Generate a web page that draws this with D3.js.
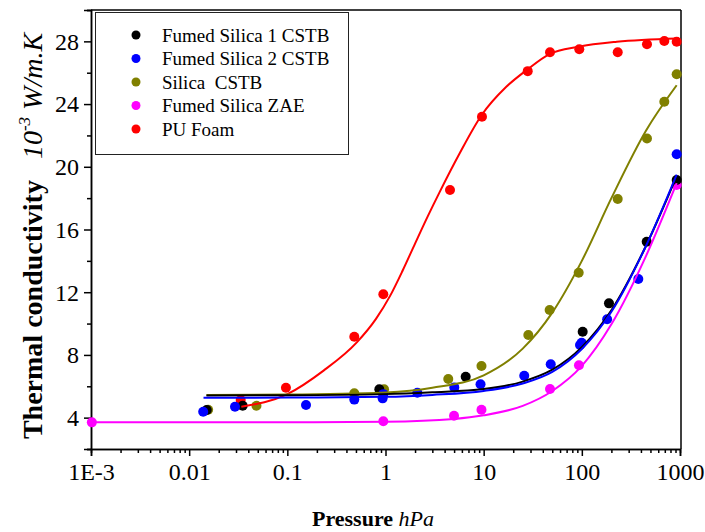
<!DOCTYPE html>
<html><head><meta charset="utf-8">
<script src="https://cdn.jsdelivr.net/npm/d3@7/dist/d3.min.js"></script>
<style>
body{margin:0;background:#fff;}
svg{display:block;}
text{font-family:"Liberation Serif","Times New Roman",Times,serif;fill:#000;}
</style>
</head><body>
<svg id="chart" width="705" height="532"></svg>
<script>
// ---- data ----
const seriesNames = ["Fumed Silica 1 CSTB","Fumed Silica 2 CSTB","Silica  CSTB","Fumed Silica ZAE","PU Foam"];
const seriesColors = ["#000000","#0000ff","#808000","#ff00ff","#ff0000"];

const xTickValues = [1e-3,1e-2,1e-1,1,10,100,1000];
const xTickLabels = ["1E-3","0.01","0.1","1","10","100","1000"];
const yTickValues = [4,8,12,16,20,24,28];
const yTickLabels = ["4","8","12","16","20","24","28"];

// measured points (pressure hPa, conductivity 10^-3 W/m.K)
const fs1P = [0.0151,0.0351,0.865,6.56,102,189,458,925];
const fs1K = [4.49,4.76,5.81,6.61,9.48,11.29,15.22,19.16];
const fs2P = [0.0139,0.0293,0.155,0.481,0.935,0.95,2.11,5.02,9.29,25.9,48.2,95.8,99.6,181,376,925];
const fs2K = [4.38,4.70,4.81,5.15,5.23,5.5,5.59,5.93,6.13,6.67,7.4,8.63,8.78,10.27,12.84,20.8];
const silP = [0.0156,0.0485,0.481,0.967,4.36,9.5,28.5,47,92.9,232,461,692,925];
const silK = [4.5,4.76,5.55,5.81,6.46,7.29,9.27,10.86,13.24,17.94,21.8,24.15,25.9];
const zaeP = [0.00102,0.95,4.99,9.5,47.4,93.5,925];
const zaeK = [3.7,3.77,4.12,4.5,5.83,7.34,18.84];
const puP = [0.0335,0.0968,0.481,0.95,4.54,9.61,28.1,47.4,94.2,232,461,692,925];
const puK = [5.12,5.91,9.16,11.87,18.52,23.19,26.1,27.3,27.5,27.3,27.81,28.02,27.98];

// fitted curves
const fs1FitP = [0.015,0.1,1,3,10,25,50,100,200,450,925];
const fs1FitK = [5.42,5.43,5.5,5.62,5.82,6.3,7.06,8.5,10.85,14.95,19.4];
const fs2FitP = [0.014,0.1,1,3,10,25,50,100,200,450,925];
const fs2FitK = [5.27,5.28,5.33,5.45,5.7,6.18,6.92,8.38,10.75,14.95,19.5];
const silFitP = [0.015,0.1,1,3,10,25,50,100,200,450,925];
const silFitK = [5.45,5.47,5.6,5.9,6.7,8.4,10.7,14.0,18.0,22.3,25.2];
const zaeFitP = [0.001,0.1,1,5,10,25,50,100,200,450,925];
const zaeFitK = [3.7,3.7,3.74,3.92,4.15,4.75,5.7,7.3,9.95,14.3,18.95];
const puFitP = [0.034,0.1,0.234,0.51,0.8,1.11,1.5,2.0,2.7,3.57,5.7,9.55,17,27.8,46.8,92.7,227,925];
const puFitK = [4.70,5.5,7.0,8.8,10.3,11.75,13.4,15.1,16.85,18.4,20.86,23.3,25.1,26.2,27.19,27.66,27.98,28.19];

// ---- chart ----
const svg = d3.select("#chart");
const X0 = 91, X1 = 680, Y0 = 449, Y1 = 10;
const x = d3.scaleLog().domain([1e-3,1000]).range([X0,X1]);
const y = d3.scaleLinear().domain([2,30]).range([Y0,Y1]);

const zip = (P,K) => P.map((p,i)=>({p:p,k:K[i]}));
const pointSets = [zip(fs1P,fs1K),zip(fs2P,fs2K),zip(silP,silK),zip(zaeP,zaeK),zip(puP,puK)];
const fitSets = [zip(fs1FitP,fs1FitK),zip(fs2FitP,fs2FitK),zip(silFitP,silFitK),zip(zaeFitP,zaeFitK),zip(puFitP,puFitK)];

// frame (top & right)
svg.append("line").attr("x1",X0).attr("x2",X1+1).attr("y1",Y1).attr("y2",Y1).attr("stroke","#000").attr("stroke-width",1.5);
svg.append("line").attr("x1",X1+1).attr("x2",X1+1).attr("y1",Y1).attr("y2",Y0).attr("stroke","#000").attr("stroke-width",1.5);

// x axis
const minorX = [];
for (let e=-3;e<3;e++) for (let m=2;m<=9;m++) minorX.push(m*Math.pow(10,e));
const xMinor = svg.append("g").attr("transform",`translate(0,${Y0})`)
  .call(d3.axisBottom(x).tickValues(minorX).tickSize(4).tickFormat(""));
const xMajor = svg.append("g").attr("transform",`translate(0,${Y0})`)
  .call(d3.axisBottom(x).tickValues(xTickValues).tickSize(7).tickPadding(5)
    .tickFormat((d,i)=>xTickLabels[i]));
// y axis
const minorY = d3.range(2,31,2).filter(v=>v%4!==0);
const yMinor = svg.append("g").attr("transform",`translate(${X0},0)`)
  .call(d3.axisLeft(y).tickValues(minorY).tickSize(4).tickFormat(""));
const yMajor = svg.append("g").attr("transform",`translate(${X0},0)`)
  .call(d3.axisLeft(y).tickValues(yTickValues).tickSize(7).tickPadding(5)
    .tickFormat((d,i)=>yTickLabels[i]));

[xMinor,xMajor,yMinor,yMajor].forEach(g=>{
  g.select(".domain").attr("stroke","#000").attr("stroke-width",1.5);
  g.selectAll(".tick line").attr("stroke","#000").attr("stroke-width",1.5);
  g.selectAll(".tick text").style("font-family",'"Liberation Serif",serif').style("font-size","24px").attr("fill","#000");
});
xMajor.selectAll(".tick text").attr("dy","0.8em");
yMajor.selectAll(".tick text").attr("dy","0.33em");

// points (drawn in order so blue ends on top)
const drawOrder = [4,3,2,0,1];
drawOrder.forEach(si=>{
  svg.append("g").selectAll("circle").data(pointSets[si]).join("circle")
    .attr("cx",d=>x(d.p)).attr("cy",d=>y(d.k)).attr("r",5)
    .attr("fill",seriesColors[si]);
});

// fitted lines
const line = d3.line().x(d=>x(d.p)).y(d=>y(d.k)).curve(d3.curveMonotoneX);
[4,3,2,0,1].forEach(si=>{
  svg.append("path").datum(fitSets[si]).attr("d",line)
    .attr("fill","none").attr("stroke",seriesColors[si]).attr("stroke-width",2);
});

// legend
const lg = svg.append("g");
lg.append("rect").attr("x",95.5).attr("y",12.5).attr("width",253).attr("height",142)
  .attr("fill","#fff").attr("stroke","#222").attr("stroke-width",1);
seriesNames.forEach((name,i)=>{
  const ly = 35 + i*23.5;
  lg.append("circle").attr("cx",136).attr("cy",ly).attr("r",4.5).attr("fill",seriesColors[i]);
  lg.append("text").attr("x",162).attr("y",ly).attr("dy","0.35em")
    .style("font-size","19px").style("white-space","pre").attr("xml:space","preserve").text(name);
});

// axis titles
const xt = svg.append("text").attr("x",373).attr("y",526).attr("text-anchor","middle").style("font-size","22px");
xt.append("tspan").style("font-weight","bold").text("Pressure ");
xt.append("tspan").style("font-style","italic").text("hPa");

const yt = svg.append("text").attr("transform","translate(42,236) rotate(-90)")
  .attr("text-anchor","middle").style("font-size","28px").style("white-space","pre").attr("xml:space","preserve");
yt.append("tspan").style("font-weight","bold").text("Thermal conductivity   ");
yt.append("tspan").style("font-style","italic").text("10");
yt.append("tspan").style("font-style","italic").style("font-size","17px").attr("dy","-12").text("-3");
yt.append("tspan").style("font-style","italic").attr("dy","12").text(" W/m.K");
</script>
</body></html>
